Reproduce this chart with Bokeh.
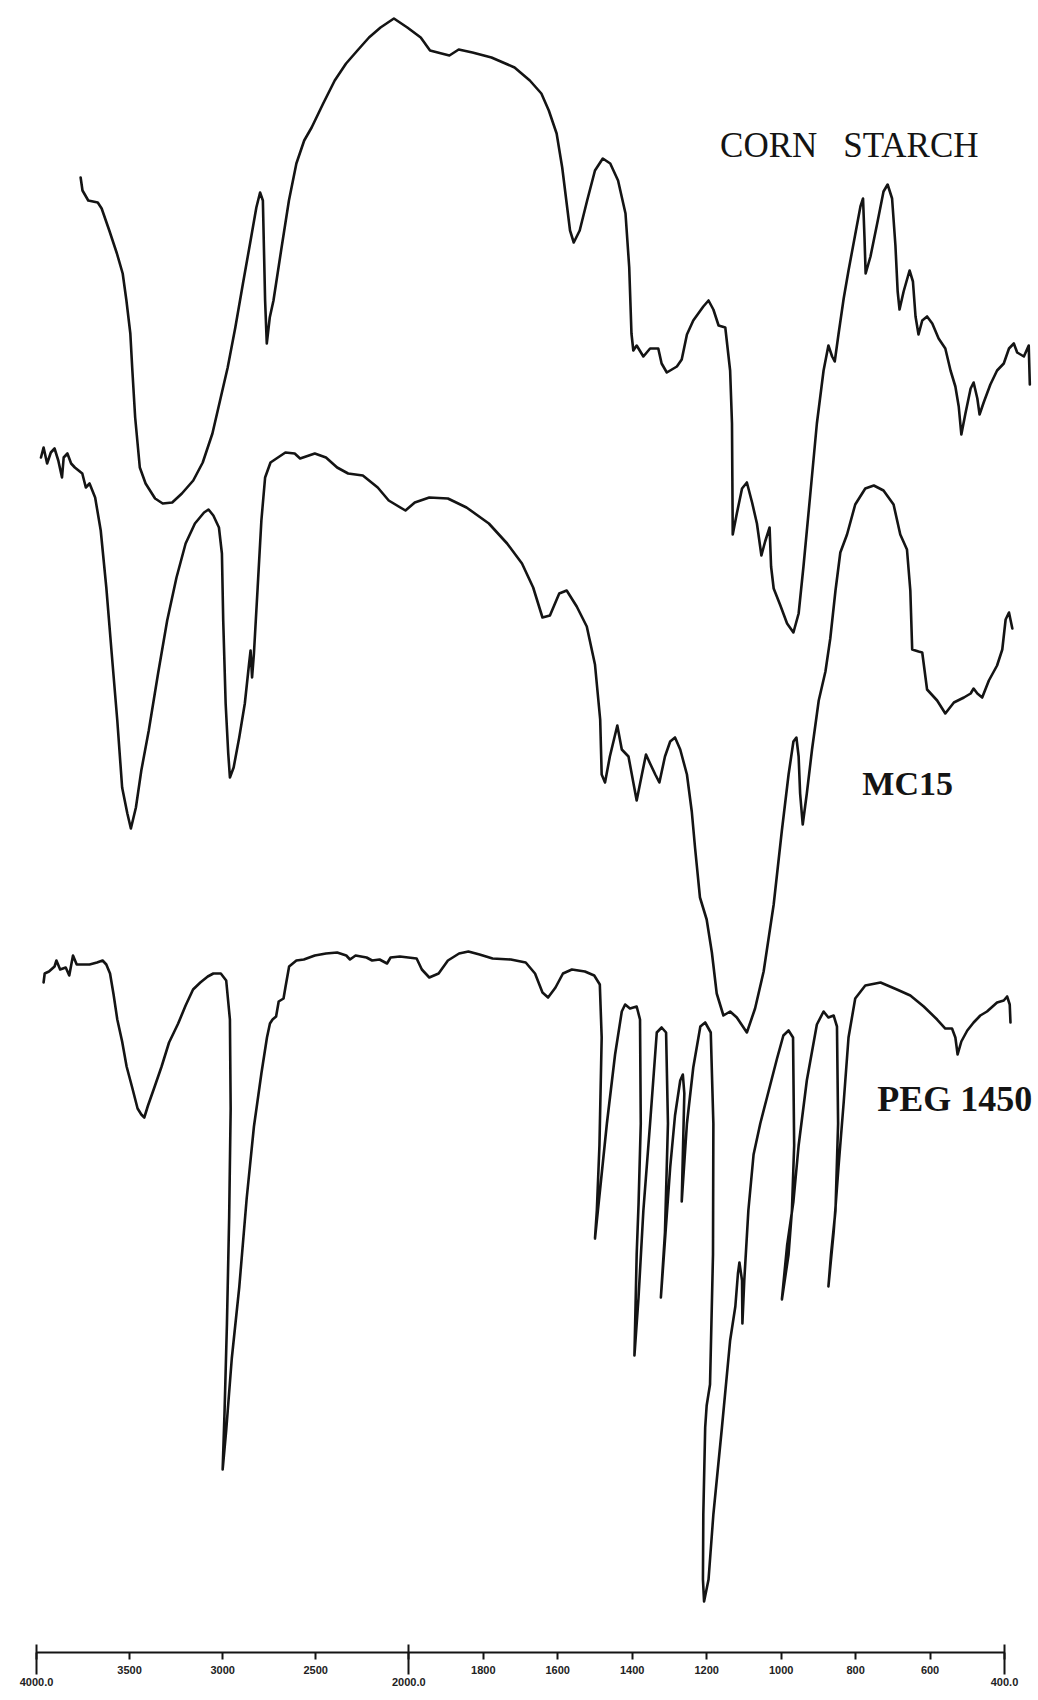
import numpy as np
from bokeh.plotting import figure
from bokeh.models import Range1d, LinearAxis, FixedTicker
from bokeh.core.properties import value
from bokeh.embed import file_html
from bokeh.resources import INLINE

# ---- data (wavenumber cm-1, offset transmittance) ----
corn_wn = [3763, 3753, 3722, 3671, 3650, 3609, 3568, 3537, 3517, 3496,
           3486, 3470, 3445, 3414, 3363, 3322, 3271, 3219, 3158, 3107,
           3055, 3014, 2973, 2932, 2891, 2850, 2819, 2799, 2784, 2778,
           2772, 2763, 2747, 2727, 2686, 2644, 2604, 2562, 2522, 2460,
           2398, 2337, 2276, 2214, 2152, 2080, 2008, 1968, 1943, 1912,
           1891, 1866, 1829, 1778, 1716, 1675, 1644, 1624, 1603, 1588,
           1577, 1567, 1557, 1541, 1521, 1500, 1479, 1459, 1438, 1418,
           1408, 1402, 1397, 1388, 1370, 1352, 1330, 1321, 1307, 1280,
           1267, 1253, 1236, 1209, 1195, 1182, 1168, 1150, 1137, 1132,
           1131, 1130, 1119, 1105, 1092, 1078, 1065, 1053, 1043, 1031,
           1027, 1020, 1002, 984, 967, 953, 940, 922, 904, 886,
           873, 863, 856, 846, 832, 819, 801, 787, 780, 776,
           773, 760, 742, 725, 714, 702, 693, 687, 682, 671,
           655, 646, 639, 631, 621, 608, 594, 577, 559, 545,
           532, 523, 516, 505, 491, 483, 473, 467, 456, 438,
           420, 402, 388, 375, 366, 348, 335, 332]
corn_t = [147.5, 146.2, 145.2, 145.0, 144.4, 142.2, 139.9, 137.9, 135.2, 131.9,
          128.5, 123.5, 118.5, 116.9, 115.4, 114.9, 115.0, 115.9, 117.2, 119.0,
          121.9, 125.2, 128.5, 132.5, 136.9, 141.2, 144.5, 146.0, 145.2, 140.2,
          135.2, 130.9, 133.5, 135.2, 140.2, 145.2, 148.9, 151.2, 152.5, 154.9,
          157.2, 158.9, 160.2, 161.5, 162.5, 163.4, 162.5, 161.5, 160.2, 159.9,
          159.7, 160.3, 160.0, 159.5, 158.5, 157.2, 155.9, 154.2, 151.9, 148.5,
          145.2, 142.2, 141.0, 142.2, 145.2, 148.2, 149.4, 148.9, 147.2, 143.9,
          138.5, 131.9, 130.2, 130.7, 129.6, 130.4, 130.4, 128.9, 128.0, 128.6,
          129.3, 131.8, 133.2, 134.6, 135.2, 134.3, 132.7, 132.5, 128.2, 122.9,
          117.5, 111.8, 113.9, 116.4, 117.0, 115.0, 112.9, 109.7, 111.1, 112.5,
          108.6, 106.4, 104.7, 102.9, 102.0, 103.9, 108.6, 115.7, 122.9, 128.2,
          130.7, 129.6, 129.1, 131.8, 135.4, 138.2, 141.8, 144.6, 145.4, 141.4,
          137.9, 139.6, 142.9, 146.1, 146.8, 145.4, 140.7, 136.1, 134.3, 136.1,
          138.2, 137.1, 133.6, 131.8, 133.2, 133.6, 132.9, 131.4, 130.4, 128.2,
          126.6, 124.6, 121.8, 123.9, 126.4, 127.0, 125.4, 123.8, 125.0, 126.8,
          128.2, 128.9, 130.4, 130.9, 130.0, 129.6, 130.7, 126.8]

mc15_wn = [3976, 3962, 3943, 3923, 3903, 3883, 3863, 3854, 3834, 3814,
           3794, 3774, 3754, 3735, 3715, 3685, 3655, 3625, 3596, 3566,
           3540, 3512, 3493, 3466, 3437, 3397, 3347, 3298, 3248, 3199,
           3149, 3100, 3076, 3050, 3020, 3004, 2997, 2984, 2970, 2961,
           2941, 2911, 2881, 2858, 2850, 2842, 2832, 2812, 2792, 2772,
           2743, 2703, 2663, 2613, 2584, 2505, 2445, 2385, 2326, 2247,
           2167, 2108, 2018, 1984, 1945, 1895, 1845, 1785, 1736, 1696,
           1666, 1641, 1621, 1596, 1576, 1549, 1522, 1500, 1486, 1482,
           1473, 1460, 1440, 1428, 1410, 1397, 1388, 1374, 1363, 1352,
           1338, 1327, 1312, 1298, 1285, 1271, 1253, 1240, 1231, 1218,
           1200, 1186, 1173, 1155, 1137, 1119, 1092, 1070, 1047, 1020,
           998, 980, 967, 959, 953, 949, 942, 931, 917, 899,
           881, 868, 854, 841, 823, 801, 774, 751, 725, 698,
           680, 662, 653, 648, 631, 621, 608, 581, 559, 536,
           509, 491, 483, 473, 460, 442, 420, 406, 397, 388, 379]
mc15_t = [119.5, 120.5, 118.9, 120.0, 120.4, 119.2, 117.5, 119.5, 119.9, 118.9,
          118.5, 118.2, 117.9, 116.5, 116.9, 115.5, 112.2, 106.5, 99.9, 93.2,
          86.5, 83.9, 82.4, 84.5, 88.2, 92.2, 97.9, 103.2, 107.5, 110.9,
          112.9, 114.0, 114.3, 113.7, 112.5, 109.9, 103.2, 94.9, 89.9, 87.5,
          88.5, 91.5, 94.9, 98.9, 100.2, 97.5, 99.9, 106.5, 113.2, 117.5,
          119.0, 119.5, 120.0, 119.9, 119.4, 119.9, 119.5, 118.5, 117.9, 117.7,
          116.5, 115.2, 114.2, 115.0, 115.5, 115.4, 114.5, 112.9, 110.9, 108.9,
          106.5, 103.5, 103.7, 105.9, 106.2, 104.6, 102.6, 98.8, 93.3, 87.8,
          87.0, 89.6, 92.7, 90.3, 89.6, 87.0, 85.2, 87.8, 89.8, 88.9,
          87.8, 87.0, 89.6, 91.1, 91.5, 90.3, 87.8, 84.1, 80.4, 75.5,
          73.3, 70.0, 65.9, 63.7, 64.1, 63.5, 62.0, 64.4, 68.1, 74.8,
          82.2, 87.8, 91.1, 91.5, 89.6, 85.9, 82.8, 85.9, 90.3, 95.2,
          98.1, 101.4, 106.2, 110.0, 111.8, 114.8, 116.4, 116.7, 116.2, 114.8,
          111.8, 110.3, 106.2, 100.3, 100.1, 100.0, 96.3, 95.2, 93.9, 95.0,
          95.5, 95.9, 96.4, 95.9, 95.5, 97.2, 98.7, 100.3, 103.3, 104.0, 102.4]

peg_wn = [3962, 3956, 3933, 3903, 3893, 3873, 3843, 3824, 3804, 3784,
          3744, 3715, 3675, 3645, 3625, 3605, 3586, 3566, 3540, 3516,
          3486, 3457, 3437, 3421, 3401, 3367, 3328, 3288, 3239, 3199,
          3159, 3120, 3080, 3050, 3010, 2981, 2961, 2957, 2965, 2977,
          2990, 3000, 2981, 2951, 2911, 2871, 2832, 2792, 2762, 2746,
          2732, 2713, 2699, 2673, 2663, 2643, 2604, 2564, 2505, 2445,
          2385, 2336, 2316, 2286, 2227, 2197, 2157, 2117, 2098, 2048,
          1979, 1965, 1945, 1920, 1895, 1865, 1840, 1810, 1775, 1726,
          1686, 1661, 1641, 1626, 1606, 1586, 1562, 1527, 1502, 1487,
          1482, 1488, 1495, 1500, 1486, 1468, 1446, 1428, 1419, 1406,
          1388, 1379, 1377, 1383, 1388, 1394, 1383, 1370, 1352, 1334,
          1321, 1309, 1304, 1312, 1323, 1298, 1285, 1271, 1264, 1260,
          1267, 1253, 1236, 1217, 1204, 1189, 1182, 1183, 1191, 1200,
          1204, 1209, 1210, 1207, 1195, 1182, 1159, 1137, 1123, 1116,
          1112, 1105, 1104, 1099, 1088, 1074, 1056, 1038, 1011, 994,
          980, 968, 965, 971, 980, 998, 984, 967, 953, 931,
          904, 886, 873, 859, 850, 847, 854, 866, 873, 859,
          846, 832, 819, 801, 774, 733, 689, 653, 617, 581,
          559, 541, 532, 526, 516, 500, 483, 465, 447, 420,
          402, 393, 386, 384]
peg_t = [67.0, 67.9, 68.1, 68.6, 69.2, 68.3, 68.5, 67.7, 69.7, 68.8,
         68.8, 68.8, 69.0, 69.2, 68.8, 67.9, 65.8, 63.3, 61.1, 58.6,
         56.5, 54.4, 53.8, 53.5, 54.7, 56.5, 58.6, 61.0, 62.9, 64.7,
         66.3, 67.0, 67.6, 67.9, 67.9, 67.2, 63.3, 54.4, 43.6, 32.9,
         24.0, 18.3, 22.2, 29.4, 36.5, 45.4, 52.6, 57.9, 61.5, 62.9,
         63.3, 63.6, 65.1, 65.4, 66.5, 68.6, 69.2, 69.3, 69.7, 69.9,
         70.0, 69.7, 69.3, 69.7, 69.5, 69.2, 69.3, 68.9, 69.5, 69.6,
         69.4, 68.3, 67.5, 67.9, 69.2, 69.9, 70.1, 69.8, 69.4, 69.3,
         69.0, 67.9, 66.0, 65.5, 66.5, 67.9, 68.3, 68.1, 67.7, 66.8,
         61.5, 50.7, 44.2, 41.4, 46.4, 52.9, 59.8, 64.1, 64.8, 64.4,
         64.6, 63.3, 52.9, 44.8, 39.8, 29.7, 35.5, 44.2, 52.9, 62.0,
         62.5, 62.0, 52.9, 42.0, 35.5, 48.5, 53.7, 57.2, 57.8, 55.9,
         45.1, 52.9, 58.5, 62.6, 63.0, 62.0, 52.9, 39.8, 26.8, 24.7,
         22.5, 13.8, 7.3, 5.1, 7.3, 13.8, 22.5, 31.2, 34.6, 37.9,
         39.0, 37.2, 32.9, 37.2, 44.2, 49.8, 52.9, 55.5, 59.4, 61.7,
         62.2, 61.5, 50.7, 44.2, 39.8, 35.3, 40.7, 45.1, 50.7, 57.2,
         62.8, 64.1, 63.5, 63.7, 62.6, 52.9, 44.2, 39.8, 36.6, 42.0,
         48.5, 55.0, 61.5, 65.4, 66.7, 67.0, 66.3, 65.7, 64.6, 63.3,
         62.4, 62.4, 61.5, 59.8, 61.1, 62.2, 63.0, 63.7, 64.1, 65.0,
         65.2, 65.6, 64.8, 63.0]

tick_wn = [4000, 3500, 3000, 2500, 2000, 1800, 1600, 1400, 1200, 1000, 800, 600, 400]
tick_labels = ["4000.0", "3500", "3000", "2500", "2000.0", "1800", "1600",
               "1400", "1200", "1000", "800", "600", "400.0"]
long_tick_wn = [4000, 2000, 400]

series_names = ["CORN STARCH", "MC15", "PEG 1450"]


# split wavenumber scale: 4000-2000 compressed by two, 2000-400 expanded
def to_u(w):
    w = np.asarray(w, dtype=float)
    return np.where(w >= 2000, (4000.0 - w) / 2.0, 1000.0 + (2000.0 - w))


p = figure(width=1036, height=1698, output_backend="svg", toolbar_location=None,
           x_range=Range1d(-21.5, 2685.9), y_range=Range1d(0, 165.2),
           x_axis_location=None, y_axis_location=None,
           min_border_left=28, min_border_right=0, min_border_top=0, min_border_bottom=46)
p.outline_line_color = None
p.xgrid.visible = False
p.ygrid.visible = False
p.background_fill_color = "white"
p.border_fill_color = "white"

ink = "#141414"
for wn, t in [(corn_wn, corn_t), (mc15_wn, mc15_t), (peg_wn, peg_t)]:
    p.line(to_u(wn), t, line_color=ink, line_width=2.6, line_join="round", line_cap="round")

# spectrum labels
p.text(x=to_u([1164, 833]), y=[150.7, 150.7], text=["CORN", "STARCH"],
       text_font=value("Liberation Serif"), text_font_size="35px",
       text_color=ink, text_baseline="alphabetic", text_align="left")
p.text(x=to_u([782]), y=[86.9], text=[series_names[1]],
       text_font=value("Liberation Serif"), text_font_size="34px", text_font_style="bold",
       text_color=ink, text_baseline="alphabetic", text_align="left")
p.text(x=to_u([742]), y=[55.4], text=[series_names[2]],
       text_font=value("Liberation Serif"), text_font_size="36px", text_font_style="bold",
       text_color=ink, text_baseline="alphabetic", text_align="left")

tick_u = [int(round(v)) for v in to_u(tick_wn)]
long_u = [int(round(v)) for v in to_u(long_tick_wn)]

overrides1 = {}
overrides2 = {}
for u, lab, w in zip(tick_u, tick_labels, tick_wn):
    if w in long_tick_wn:
        overrides1[u] = ""
        overrides2[u] = lab
    else:
        overrides1[u] = lab

ax1 = LinearAxis(ticker=FixedTicker(ticks=tick_u, minor_ticks=long_u),
                 major_label_overrides=overrides1, bounds=(0, 2600))
ax1.axis_line_color = ink
ax1.axis_line_width = 2
ax1.major_tick_line_color = ink
ax1.major_tick_line_width = 2
ax1.major_tick_in = 0
ax1.major_tick_out = 7
ax1.minor_tick_line_color = ink
ax1.minor_tick_line_width = 2
ax1.minor_tick_in = 8
ax1.minor_tick_out = 22
ax1.major_label_standoff = -9
ax1.major_label_text_font = "Liberation Sans"
ax1.major_label_text_font_size = "11px"
ax1.major_label_text_font_style = "bold"
ax1.major_label_text_color = "#222222"

ax2 = LinearAxis(ticker=FixedTicker(ticks=long_u), major_label_overrides=overrides2)
ax2.axis_line_color = None
ax2.major_tick_line_color = None
ax2.minor_tick_line_color = None
ax2.major_tick_in = 0
ax2.major_tick_out = 0
ax2.minor_tick_in = 0
ax2.minor_tick_out = 0
ax2.major_label_standoff = 1
ax2.major_label_text_font = "Liberation Sans"
ax2.major_label_text_font_size = "11px"
ax2.major_label_text_font_style = "bold"
ax2.major_label_text_color = "#222222"

p.add_layout(ax1, "below")
p.add_layout(ax2, "below")

open("out.html", "w").write(file_html(p, INLINE))
